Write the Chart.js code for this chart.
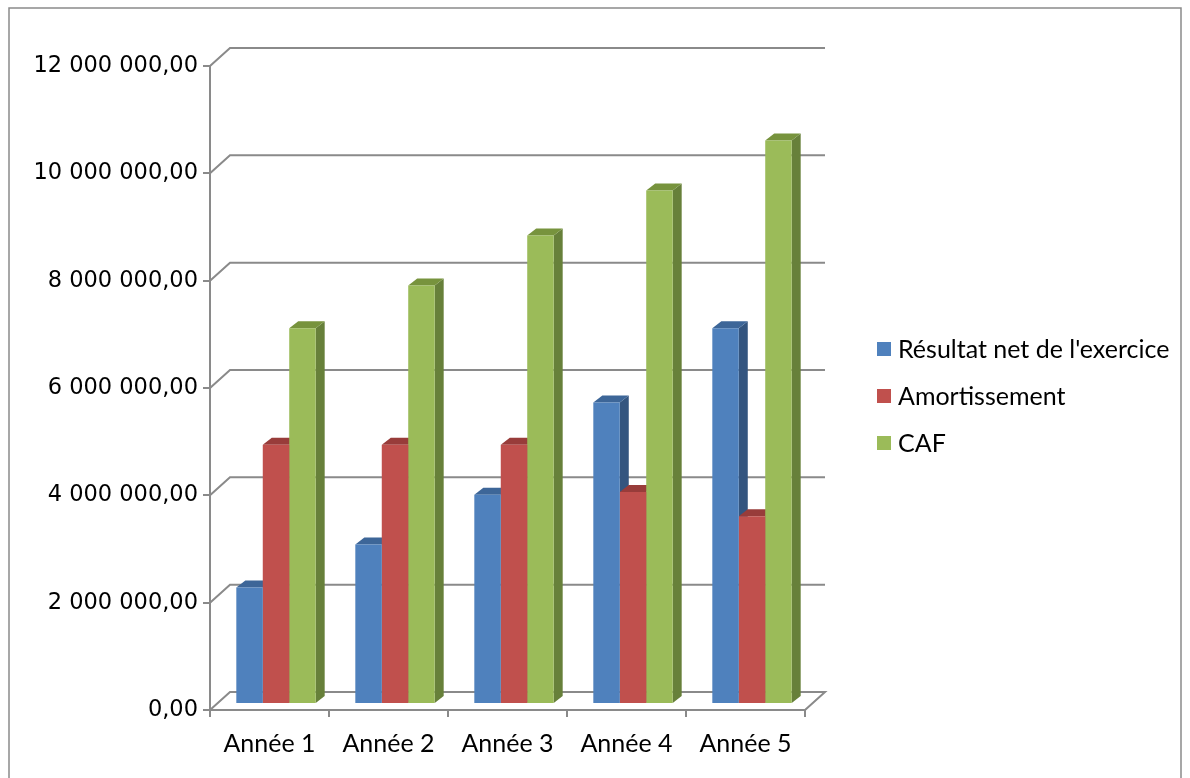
<!DOCTYPE html>
<html>
<head>
<meta charset="utf-8">
<title>Résultat net, amortissement et CAF</title>
<script src="https://cdn.jsdelivr.net/npm/chart.js@4.4.1/dist/chart.umd.min.js"></script>
<style>
  html, body { margin: 0; padding: 0; background: #ffffff; }
  #frame { position: relative; width: 1190px; height: 778px; }
  canvas { display: block; }
</style>
</head>
<body>
<div id="frame"><canvas id="chart" width="1190" height="778"></canvas></div>
<script>
// ---- data ----
const categories = ['Année 1', 'Année 2', 'Année 3', 'Année 4', 'Année 5'];
const resultatNet = [2170000, 2970000, 3900000, 5620000, 7000000];
const amortissement = [4830000, 4830000, 4830000, 3950000, 3500000];
const caf = [7000000, 7800000, 8730000, 9570000, 10500000];
const yTickValues = [0, 2000000, 4000000, 6000000, 8000000, 10000000, 12000000];
const seriesNames = ["Résultat net de l'exercice", 'Amortissement', 'CAF'];

// ---- styling ----
const AXIS_COLOR = '#8a8a8a';
const FRONT = ['#4f81bd', '#c0504d', '#9bbb59'];
const SIDE  = ['#34557f', '#8b3432', '#67803a'];
const TOP   = ['#3d6698', '#983c3a', '#77933d'];
const WALL_DEPTH = { x: 20, y: -18 };   // offset of the back wall from the front axes
const BAR_PLANE  = { x: 6.5, y: -6 };   // offset of the bars' front faces
const EXTRUDE    = { x: 9, y: -7 };     // depth of each bar
const TEXT_FONT = 'Lato';

// French number format: "12 000 000,00"
function frNumber(v) {
  const intPart = Math.round(v).toString().replace(/\B(?=(\d{3})+(?!\d))/g, ' ');
  return intPart + ',00';
}

// back wall, floor and bar depth faces
const depthPlugin = {
  id: 'depth3d',
  beforeDatasetsDraw(chart) {
    const { ctx, chartArea: a, scales: { y } } = chart;
    ctx.save();
    ctx.strokeStyle = AXIS_COLOR;
    ctx.lineWidth = 2;
    ctx.lineJoin = 'miter';
    y.ticks.forEach(t => {
      const py = y.getPixelForValue(t.value);
      ctx.beginPath();
      ctx.moveTo(a.left, py);
      ctx.lineTo(a.left + WALL_DEPTH.x, py + WALL_DEPTH.y);
      ctx.lineTo(a.right + WALL_DEPTH.x, py + WALL_DEPTH.y);
      if (t.value === 0) ctx.lineTo(a.right, py);
      ctx.stroke();
    });
    ctx.restore();

    // extrusions first, then the library paints the front faces over them
    ctx.save();
    ctx.translate(BAR_PLANE.x, BAR_PLANE.y);
    chart.data.datasets.forEach((ds, di) => {
      const meta = chart.getDatasetMeta(di);
      meta.data.forEach(bar => {
        const { x, y: top, base, width } = bar.getProps(['x', 'y', 'base', 'width'], true);
        const x0 = x - width / 2, x1 = x + width / 2;
        ctx.fillStyle = SIDE[di];
        ctx.beginPath();
        ctx.moveTo(x1, top);
        ctx.lineTo(x1 + EXTRUDE.x, top + EXTRUDE.y);
        ctx.lineTo(x1 + EXTRUDE.x, base + EXTRUDE.y);
        ctx.lineTo(x1, base);
        ctx.closePath();
        ctx.fill();
        ctx.fillStyle = TOP[di];
        ctx.beginPath();
        ctx.moveTo(x0, top);
        ctx.lineTo(x0 + EXTRUDE.x, top + EXTRUDE.y);
        ctx.lineTo(x1 + EXTRUDE.x, top + EXTRUDE.y);
        ctx.lineTo(x1, top);
        ctx.closePath();
        ctx.fill();
      });
    });
  },
  afterDatasetsDraw(chart) {
    chart.ctx.restore();
  },
  afterDraw(chart) {
    const { ctx } = chart;
    // outer frame
    ctx.save();
    ctx.strokeStyle = '#8a8a8a';
    ctx.lineWidth = 1.5;
    ctx.strokeRect(9, 8, 1172, 790);
    // legend
    ctx.font = '25px ' + TEXT_FONT;
    ctx.textBaseline = 'middle';
    ctx.textAlign = 'left';
    chart.data.datasets.forEach((ds, i) => {
      const cy = 349 + i * 47;
      ctx.fillStyle = ds.backgroundColor;
      ctx.fillRect(877, cy - 7, 14, 14);
      ctx.fillStyle = '#000000';
      ctx.fillText(ds.label, 898, cy + 1);
    });
    ctx.restore();
  }
};

new Chart(document.getElementById('chart'), {
  type: 'bar',
  data: {
    labels: categories,
    datasets: [
      { label: seriesNames[0], data: resultatNet,  backgroundColor: FRONT[0] },
      { label: seriesNames[1], data: amortissement, backgroundColor: FRONT[1] },
      { label: seriesNames[2], data: caf,           backgroundColor: FRONT[2] }
    ]
  },
  options: {
    responsive: false,
    animation: false,
    devicePixelRatio: 1,
    categoryPercentage: 0.667,
    barPercentage: 1.0,
    layout: { padding: { left: 0, top: 66, right: 385, bottom: 0 } },
    plugins: { legend: { display: false }, tooltip: { enabled: false } },
    scales: {
      x: {
        grid: { drawOnChartArea: false, drawTicks: true, tickLength: 7, offset: true, color: AXIS_COLOR, lineWidth: 2 },
        border: { display: true, color: AXIS_COLOR, width: 2 },
        ticks: { color: '#000000', font: { family: TEXT_FONT, size: 25 }, padding: 12, maxRotation: 0 },
        afterFit(scale) { scale.height = 68; }
      },
      y: {
        min: 0,
        max: 12000000,
        afterBuildTicks(scale) { scale.ticks = yTickValues.map(v => ({ value: v })); },
        grid: { drawOnChartArea: false, drawTicks: true, tickLength: 7, color: AXIS_COLOR, lineWidth: 2 },
        border: { display: true, color: AXIS_COLOR, width: 2 },
        ticks: { color: '#000000', font: { family: 'DejaVu Sans', size: 22.5 }, padding: 5, callback: v => frNumber(v) },
        afterFit(scale) { scale.width = 210; }
      }
    }
  },
  plugins: [depthPlugin]
});
</script>
</body>
</html>
